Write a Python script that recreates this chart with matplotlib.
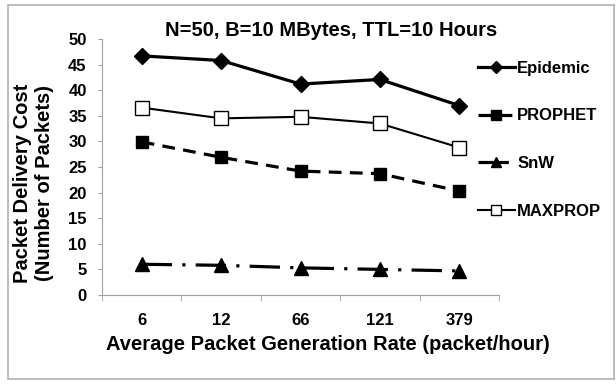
import matplotlib
matplotlib.use("Agg")
import matplotlib.pyplot as plt
from matplotlib.patches import Rectangle
import numpy as np

plt.rcParams["font.family"] = ["Liberation Sans", "DejaVu Sans"]
plt.rcParams["font.weight"] = "bold"

rates = ["6", "12", "66", "121", "379"]
epidemic = [46.7, 45.8, 41.2, 42.1, 37.0]
prophet = [29.9, 26.9, 24.2, 23.7, 20.3]
snw = [6.0, 5.8, 5.3, 5.0, 4.7]
maxprop = [36.6, 34.5, 34.8, 33.5, 28.8]

W, H = 616, 385
fig = plt.figure(figsize=(W / 100, H / 100), dpi=100)
ax = fig.add_axes([102 / W, 1 - 295 / H, (499 - 102) / W, (295 - 39) / H])

x = np.arange(len(rates))
ax.plot(x, epidemic, color="black", lw=2.3, marker="D", ms=8, label="Epidemic")
ax.plot(x, prophet, color="black", lw=2.3, ls=(0, (4, 2.6)), marker="s", ms=9, label="PROPHET")
ax.plot(x, snw, color="black", lw=2.3, ls=(0, (9.5, 3.2, 1, 3.2)), marker="^", ms=10, label="SnW")
ax.plot(x, maxprop, color="black", lw=1.5, marker="s", ms=10, mfc="white", mew=1.0, label="MAXPROP")

ax.set_xlim(-0.5, 4.5)
ax.set_ylim(0, 50)
ax.set_yticks(range(0, 51, 5))
ax.set_xticks(x)
ax.set_xticklabels(rates)
ax.set_xticks(np.arange(-0.5, 4.6, 1), minor=True)
ax.tick_params(axis="x", which="major", length=0, pad=13, labelsize=12)
ax.tick_params(axis="x", which="minor", length=4, color="#a0a0a0", direction="out")
ax.tick_params(axis="y", length=3, color="#a0a0a0", labelsize=12, pad=8)
for side in ["top", "right"]:
    ax.spines[side].set_visible(False)
for side in ["left", "bottom"]:
    ax.spines[side].set_color("#a0a0a0")

fig.text(331 / W, 1 - 30 / H, "N=50, B=10 MBytes, TTL=10 Hours", fontsize=14.5, fontweight="bold",
         ha="center", va="center")
fig.text(328 / W, 1 - 345 / H, "Average Packet Generation Rate (packet/hour)", fontsize=14.5,
         fontweight="bold", ha="center", va="center")
fig.text(34 / W, 1 - 183 / H, "Packet Delivery Cost\n(Number of Packets)", fontsize=14.5,
         fontweight="bold", ha="center", va="center", rotation=90, linespacing=1.2, multialignment="center")

leg = ax.legend(loc="upper left", bbox_to_anchor=(478 / W, 1 - 61 / H), bbox_transform=fig.transFigure,
                frameon=False, fontsize=12, handlelength=2.2, handletextpad=0.15, labelspacing=1.95,
                markerscale=0.75, borderpad=0, borderaxespad=0)
for t in leg.get_texts():
    t.set_fontweight("bold")

fig.patches.append(Rectangle((8 / W, 6 / H), 606 / W, 374 / H, transform=fig.transFigure,
                             fill=False, edgecolor="#b0b0b0", lw=1.2))

fig.savefig("out.png", dpi=100)
